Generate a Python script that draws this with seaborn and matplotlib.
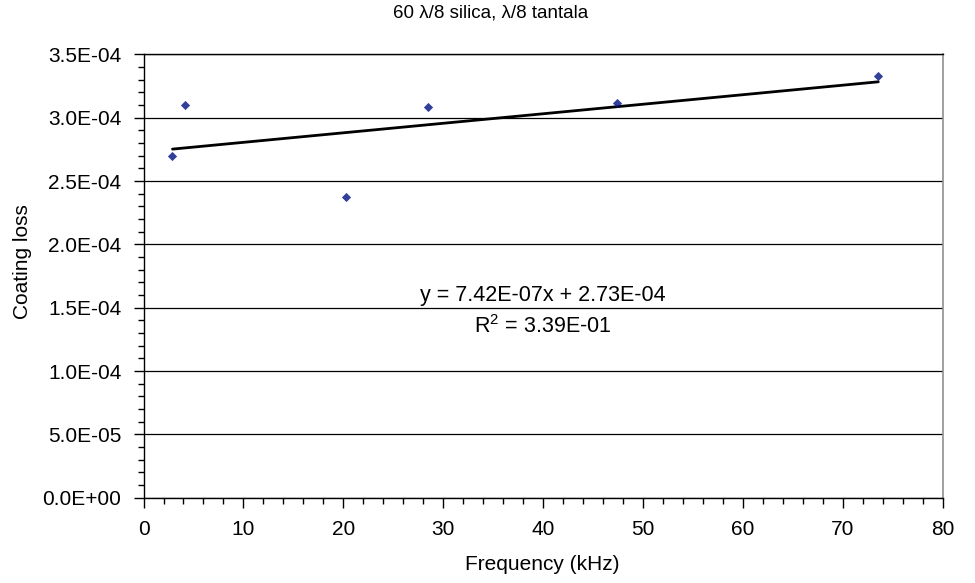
import matplotlib
matplotlib.use("Agg")
import matplotlib.pyplot as plt
import matplotlib.ticker as mticker
import numpy as np
import pandas as pd
import seaborn as sns

# valeurs
frequency_khz = [2.9, 4.15, 20.25, 28.5, 47.4, 73.55]
coating_loss = [2.70e-4, 3.10e-4, 2.375e-4, 3.087e-4, 3.12e-4, 3.33e-4]
title_text = "60 λ/8 silica, λ/8 tantala"
equation_text = "y = 7.42E-07x + 2.73E-04"
r2_text = "R$^{2}$ = 3.39E-01"

df = pd.DataFrame({"freq": frequency_khz, "loss": coating_loss})

sns.set_style("white")
plt.rcParams["font.family"] = ["Liberation Sans", "DejaVu Sans"]
plt.rcParams["mathtext.default"] = "regular"
plt.rcParams["text.color"] = "black"

fig = plt.figure(figsize=(9.75, 5.83), dpi=100)
ax = fig.add_axes([0.1472, 0.1463, 0.8197, 0.7604])

sns.regplot(
    data=df, x="freq", y="loss", ax=ax,
    ci=None, truncate=True, marker="D",
    scatter_kws={"s": 22, "color": "#001080", "zorder": 4, "linewidths": 0},
    line_kws={"color": "black", "lw": 2, "zorder": 3},
)

ax.set_xlim(0, 80)
ax.set_ylim(0, 3.5e-4)
ax.xaxis.set_major_locator(mticker.MultipleLocator(10))
ax.xaxis.set_minor_locator(mticker.MultipleLocator(2))
ax.yaxis.set_major_locator(mticker.MultipleLocator(5e-5))
ax.yaxis.set_minor_locator(mticker.MultipleLocator(1e-5))
ax.yaxis.set_major_formatter(mticker.FuncFormatter(lambda v, p: f"{v:.1E}"))

ax.tick_params(axis="both", which="major", direction="out", length=7, width=1,
               color="black", labelsize=15, labelcolor="black")
ax.tick_params(axis="x", which="major", pad=9)
ax.tick_params(axis="y", which="major", pad=9)
ax.tick_params(axis="both", which="minor", direction="out", length=4, width=1, color="black")
ax.tick_params(axis="x", which="both", bottom=True)
ax.tick_params(axis="y", which="both", left=True)

ax.yaxis.grid(True, which="major", color="black", lw=0.9)
ax.set_axisbelow(True)

for side in ["left", "bottom", "top"]:
    ax.spines[side].set_color("black")
    ax.spines[side].set_linewidth(1)
ax.spines["right"].set_color("#909090")
ax.spines["right"].set_linewidth(1.2)

ax.set_xlabel("")
ax.set_ylabel("")
fig.text(0.556, 1 - 565 / 583, "Frequency (kHz)", fontsize=15, ha="center", va="center")
fig.text(23 / 975, 1 - 262 / 583, "Coating loss", fontsize=15, ha="center", va="center", rotation=90)
fig.text(0.503, 1 - 13 / 583, title_text, fontsize=13.5, ha="center", va="center")

ax.text(0.5, 0.455, equation_text, transform=ax.transAxes, fontsize=15.5, ha="center", va="center")
ax.text(0.5, 0.385, r2_text, transform=ax.transAxes, fontsize=15.5, ha="center", va="center")

fig.savefig("out.png", dpi=100)
